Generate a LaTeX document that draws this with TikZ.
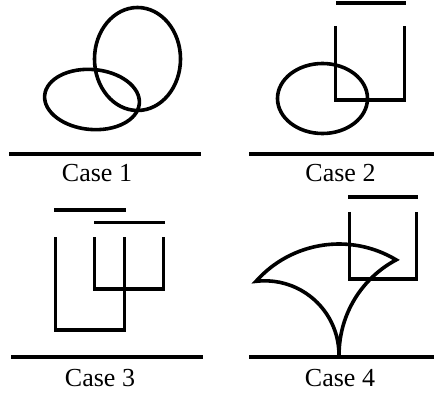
\documentclass[tikz,border=0pt]{standalone}
\usepackage{fontspec}
\setmainfont{Liberation Serif}
\begin{document}
\begin{tikzpicture}[x=1pt,y=1pt,
  shape line/.style={line width=3.6pt},
  ground/.style={line width=4.2pt},
  caselabel/.style={anchor=base,inner sep=0pt,font=\fontsize{26}{30}\selectfont}]
\useasboundingbox (0,0) rectangle (434,394);
% ---- Case 1
\draw[shape line, rotate around={-5:(92,294.5)}] (92,294.5) ellipse [x radius=47.5pt, y radius=30pt];
\draw[shape line] (137.5,335) ellipse [x radius=43pt, y radius=51.5pt];
\draw[ground] (9,240) -- (201,240);
\node[caselabel] (c1) at (97,212) {Case 1};
% ---- Case 2
\draw[shape line] (336,391) -- (406,391);
\draw[shape line] (335.5,368) -- (335.5,294) -- (404.5,294) -- (404.5,368);
\draw[shape line] (322.5,295.5) ellipse [x radius=45pt, y radius=35pt];
\draw[ground] (249,240) -- (434,240);
\node[caselabel] (c2) at (340.5,212) {Case 2};
% ---- Case 3
\draw[shape line] (54,184) -- (126,184);
\draw[shape line] (94,171.5) -- (165,171.5);
\draw[shape line] (55.5,156.5) -- (55.5,64) -- (124.5,64) -- (124.5,156.5);
\draw[shape line] (94.5,156.5) -- (94.5,105) -- (163.5,105) -- (163.5,156.5);
\draw[ground] (11,37) -- (203,37);
\node[caselabel] (c3) at (100,8) {Case 3};
% ---- Case 4
\draw[shape line] (348,197) -- (418,197);
\draw[shape line] (349.5,182) -- (349.5,115) -- (416.5,115) -- (416.5,182);
\coordinate (V) at (339,39);
\draw[shape line] (V) arc[start angle=0, end angle=96.8, radius=74.2pt]
  arc[start angle=138.4, end angle=59, radius=111pt]
  arc[start angle=118, end angle=180, radius=107.7pt];
\draw[ground] (249,37) -- (434,37);
\node[caselabel] (c4) at (340,8) {Case 4};
\end{tikzpicture}
\end{document}
